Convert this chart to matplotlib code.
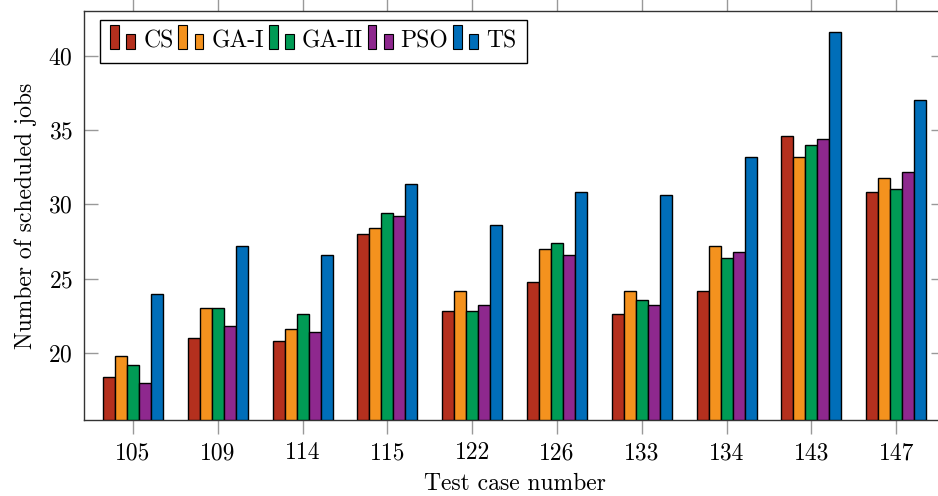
import matplotlib
matplotlib.use("Agg")
import matplotlib.pyplot as plt
import numpy as np
from matplotlib.patches import Rectangle
from matplotlib.legend_handler import HandlerBase

plt.rcParams['font.family'] = ['cmr10', 'DejaVu Serif']
plt.rcParams['axes.formatter.use_mathtext'] = True
plt.rcParams['mathtext.fontset'] = 'cm'

test_cases = ['105', '109', '114', '115', '122', '126', '133', '134', '143', '147']
algorithms = ['CS', 'GA-I', 'GA-II', 'PSO', 'TS']
cs    = [18.4, 21.0, 20.8, 28.0, 22.8, 24.8, 22.6, 24.2, 34.6, 30.8]
ga1   = [19.8, 23.0, 21.6, 28.4, 24.2, 27.0, 24.2, 27.2, 33.2, 31.8]
ga2   = [19.2, 23.0, 22.6, 29.4, 22.8, 27.4, 23.6, 26.4, 34.0, 31.0]
pso   = [18.0, 21.8, 21.4, 29.2, 23.2, 26.6, 23.2, 26.8, 34.4, 32.2]
ts    = [24.0, 27.2, 26.6, 31.4, 28.6, 30.8, 30.6, 33.2, 41.6, 37.0]
series = [cs, ga1, ga2, pso, ts]
colors = ['#B4301E', '#F4921E', '#009B55', '#8E288E', '#006EB9']

W, H = 938, 496
fig = plt.figure(figsize=(W / 100, H / 100), dpi=100)
left, right, bottom, top = 84, 945.2, 420, 11
ax = fig.add_axes([left / W, (H - bottom) / H, (right - left) / W, (bottom - top) / H])

ymin = 15.5
x = np.arange(len(test_cases))
bw = 0.1415
for i, (vals, col) in enumerate(zip(series, colors)):
    offs = (i - 2) * bw
    ax.bar(x + offs, np.array(vals) - ymin, bw, bottom=ymin, color=col,
           edgecolor='black', linewidth=1.0, label=algorithms[i], zorder=3)

ax.set_xlim(-0.578, len(test_cases) - 1 + 0.578)
ax.set_ylim(ymin, 43.0)
ax.set_xticks(x)
ax.set_xticklabels(test_cases)
ax.set_yticks([20, 25, 30, 35, 40])

for s in ax.spines.values():
    s.set_color('#333333')
    s.set_linewidth(1.0)

ax.tick_params(axis='x', which='both', direction='out', length=10, width=1,
               color='#999999', top=True, labelsize=17, pad=6)
ax.tick_params(axis='y', which='both', direction='in', length=10, width=1,
               color='#999999', right=True, labelsize=17, pad=8)

ax.set_xlabel('Test case number', fontsize=17, labelpad=6)
ax.set_ylabel('Number of scheduled jobs', fontsize=17, labelpad=8)


class TwoBarHandler(HandlerBase):
    def create_artists(self, legend, orig_handle, xdescent, ydescent,
                       width, height, fontsize, trans):
        fc = orig_handle.get_facecolor()
        w = width * 0.3
        r1 = Rectangle((-xdescent, -ydescent - 0.1 * height), w, height * 1.45,
                       facecolor=fc, edgecolor='black', linewidth=0.8, transform=trans)
        r2 = Rectangle((-xdescent + width * 0.55, -ydescent - 0.1 * height), w, height * 0.95,
                       facecolor=fc, edgecolor='black', linewidth=0.8, transform=trans)
        return [r1, r2]


handles, labels = ax.get_legend_handles_labels()
handles = [h.patches[0] for h in handles]
leg = ax.legend(handles, labels, loc='upper left', ncol=5, fontsize=17,
                handler_map={Rectangle: TwoBarHandler()},
                handlelength=1.25, handletextpad=0.15, columnspacing=0.2,
                borderpad=0.45, bbox_to_anchor=(0.018, 0.978),
                frameon=True, fancybox=False, framealpha=1, borderaxespad=0)
leg.get_frame().set_edgecolor('black')
leg.get_frame().set_linewidth(1.0)

fig.savefig('out.png', dpi=100)
